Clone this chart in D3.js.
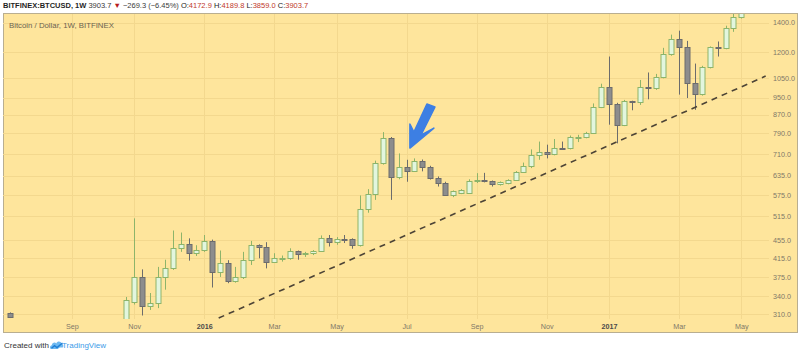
<!DOCTYPE html>
<html>
<head>
<meta charset="utf-8">
<script src="https://cdn.jsdelivr.net/npm/d3@7"></script>
<style>
  body { margin: 0; background: #fff; }
  svg { display: block; font-family: "Liberation Sans", Arial, sans-serif; }
</style>
</head>
<body>
<svg id="chart" width="800" height="354"></svg>
<script>
// weekly BITFINEX BTCUSD candles
const weeks = [
  "2015-07-13",
  "2015-10-26", "2015-11-02", "2015-11-09", "2015-11-16", "2015-11-23", "2015-11-30", "2015-12-07", "2015-12-14", "2015-12-21", "2015-12-28",
  "2016-01-04", "2016-01-11", "2016-01-18", "2016-01-25", "2016-02-01", "2016-02-08", "2016-02-15", "2016-02-22", "2016-02-29", "2016-03-07", "2016-03-14", "2016-03-21", "2016-03-28",
  "2016-04-04", "2016-04-11", "2016-04-18", "2016-04-25", "2016-05-02", "2016-05-09", "2016-05-16", "2016-05-23", "2016-05-30",
  "2016-06-06", "2016-06-13", "2016-06-20", "2016-06-27", "2016-07-04", "2016-07-11", "2016-07-18", "2016-07-25",
  "2016-08-01", "2016-08-08", "2016-08-15", "2016-08-22", "2016-08-29", "2016-09-05", "2016-09-12", "2016-09-19", "2016-09-26",
  "2016-10-03", "2016-10-10", "2016-10-17", "2016-10-24", "2016-10-31", "2016-11-07", "2016-11-14", "2016-11-21", "2016-11-28",
  "2016-12-05", "2016-12-12", "2016-12-19", "2016-12-26",
  "2017-01-02", "2017-01-09", "2017-01-16", "2017-01-23", "2017-01-30", "2017-02-06", "2017-02-13", "2017-02-20", "2017-02-27",
  "2017-03-06", "2017-03-13", "2017-03-20", "2017-03-27", "2017-04-03", "2017-04-10", "2017-04-17", "2017-04-24", "2017-05-01", "2017-05-08"
];
const opens = [
  312,
  285, 331, 376, 323, 328, 376, 393, 436, 445, 425,
  433, 453, 385, 405, 369, 375, 411, 443, 438, 407, 414, 415, 429,
  423, 425, 430, 460, 450, 458, 457, 443, 534,
  578, 679, 770, 629, 663, 651, 686, 665,
  628, 612, 573, 581, 581, 619, 620, 617, 607,
  610, 621, 648, 666, 706, 717, 710, 734, 731,
  774, 776, 793, 906,
  1006, 921, 826, 933, 927, 1006, 1000, 1059, 1188,
  1287, 1236, 1024, 970, 1114, 1232, 1230, 1360, 1444, 1560
];
const highs = [
  313,
  339, 509, 391, 346, 396, 411, 478, 473, 459, 443,
  467, 456, 431, 410, 396, 428, 453, 445, 450, 425, 420, 436, 431,
  428, 432, 466, 467, 462, 467, 459, 573, 592,
  686, 795, 775, 712, 689, 694, 690, 668,
  632, 615, 588, 592, 623, 643, 644, 619, 616,
  623, 650, 679, 727, 757, 745, 767, 757, 781,
  784, 796, 922, 1021,
  1175, 925, 939, 935, 1041, 1082, 1074, 1229, 1316,
  1343, 1274, 1133, 1120, 1238, 1270, 1378, 1480, 1620, 1850
];
const lows = [
  304,
  280, 326, 308, 317, 320, 352, 390, 428, 409, 419,
  428, 356, 376, 364, 365, 372, 400, 414, 393, 405, 407, 411, 411,
  417, 421, 428, 440, 444, 448, 435, 440, 524,
  560, 672, 560, 623, 615, 647, 649, 622,
  600, 572, 568, 577, 580, 611, 613, 600, 603,
  607, 618, 645, 660, 689, 694, 705, 727, 727,
  755, 770, 790, 900,
  826, 750, 820, 890, 915, 942, 989, 1050, 1180,
  965, 948, 892, 960, 1105, 1175, 1220, 1335, 1430, 1550
];
const closes = [
  305,
  333, 376, 323, 328, 376, 393, 436, 445, 425, 433,
  453, 385, 405, 369, 375, 411, 443, 438, 407, 414, 415, 429, 423,
  425, 430, 460, 450, 458, 457, 443, 534, 578,
  679, 770, 629, 663, 651, 686, 665, 627,
  612, 573, 585, 588, 619, 620, 617, 607, 613,
  621, 648, 666, 706, 717, 710, 734, 731, 774,
  776, 793, 906, 1006,
  921, 826, 933, 927, 1006, 1000, 1059, 1188, 1287,
  1236, 1024, 970, 1114, 1232, 1230, 1360, 1444, 1560, 1800
];

const priceTicks = [310, 340, 375, 415, 455, 515, 575, 635, 710, 790, 870, 950, 1050, 1200, 1400];
const monthTicks = ["2015-09-07", "2015-11-02", "2016-01-04", "2016-03-07", "2016-05-02", "2016-07-04",
                    "2016-09-05", "2016-11-07", "2017-01-02", "2017-03-06", "2017-05-01"];
const monthLabels = ["Sep", "Nov", "2016", "Mar", "May", "Jul", "Sep", "Nov", "2017", "Mar", "May"];

// support line drawn on the chart
const trendDates = ["2016-01-17", "2017-05-23"];
const trendPrices = [304, 1062];
const arrowTip = { date: "2016-07-07", price: 732 };

const header = [
  { t: "BITFINEX:BTCUSD, 1W", c: "#1f1f1f", w: "bold" },
  { t: " 3903.7 ", c: "#3a3a3a" },
  { t: "\u25BC", c: "#b71c1c" },
  { t: " \u2212269.3 (\u22126.45%) ", c: "#3a3a3a" },
  { t: "O:", c: "#222" }, { t: "4172.9 ", c: "#c0392b" },
  { t: "H:", c: "#222" }, { t: "4189.8 ", c: "#c0392b" },
  { t: "L:", c: "#222" }, { t: "3859.0 ", c: "#c0392b" },
  { t: "C:", c: "#222" }, { t: "3903.7", c: "#c0392b" }
];

const bgColor = "#fee59c";
const gridColor = "#f3d88e";
const upFill = "#e2f6de", upLine = "#8db46a";
const downFill = "#8d8d8d", downLine = "#6c6c6c";

const svg = d3.select("#chart");
const frame = { left: 3.5, right: 797.5, top: 13.5, bottom: 332.5 };
const plot = { left: 3, right: 769, top: 14, bottom: 319 };

const parse = d3.utcParse("%Y-%m-%d");
const bars = weeks.map((d, i) => ({ date: parse(d), o: opens[i], h: highs[i], l: lows[i], c: closes[i] }));

const x = d3.scaleUtc()
  .domain([parse("2015-07-07"), parse("2017-05-26")])
  .range([plot.left, plot.right]);
const y = d3.scaleLog()
  .domain([302.5, 1464])
  .range([plot.bottom, plot.top]);

svg.append("rect").attr("width", 800).attr("height", 354).attr("fill", "#fff");
svg.append("rect")
  .attr("x", frame.left).attr("y", frame.top)
  .attr("width", frame.right - frame.left).attr("height", frame.bottom - frame.top)
  .attr("fill", bgColor).attr("stroke", "#b9ae90");

// grid
svg.append("g").selectAll("line")
  .data(priceTicks)
  .join("line")
  .attr("x1", plot.left).attr("x2", plot.right)
  .attr("y1", d => Math.round(y(d)) + 0.5).attr("y2", d => Math.round(y(d)) + 0.5)
  .attr("stroke", gridColor);
svg.append("g").selectAll("line")
  .data(monthTicks.map(parse))
  .join("line")
  .attr("x1", d => Math.round(x(d)) + 0.5).attr("x2", d => Math.round(x(d)) + 0.5)
  .attr("y1", plot.top).attr("y2", plot.bottom)
  .attr("stroke", gridColor);

svg.append("clipPath").attr("id", "clip")
  .append("rect")
  .attr("x", plot.left + 1).attr("y", plot.top)
  .attr("width", plot.right - plot.left - 1).attr("height", plot.bottom - plot.top);

const plotG = svg.append("g").attr("clip-path", "url(#clip)");

// candles
const up = d => d.c >= d.o;
const cx = d => Math.round(x(d.date));
const candle = plotG.selectAll("g.candle")
  .data(bars)
  .join("g")
  .attr("class", "candle");

candle.append("line")
  .attr("x1", d => cx(d) + 0.5).attr("x2", d => cx(d) + 0.5)
  .attr("y1", d => y(d.h)).attr("y2", d => y(d.l))
  .attr("stroke", d => up(d) ? upLine : downLine);

candle.append("rect")
  .attr("x", d => cx(d) - 2)
  .attr("width", 5)
  .attr("y", d => Math.round(y(Math.max(d.o, d.c))) + 0.5)
  .attr("height", d => Math.max(1, Math.round(y(Math.min(d.o, d.c))) - Math.round(y(Math.max(d.o, d.c)))))
  .attr("fill", d => up(d) ? upFill : downFill)
  .attr("stroke", d => up(d) ? upLine : downLine);

// dashed support line
const trend = trendDates.map((d, i) => [parse(d), trendPrices[i]]);
plotG.append("path")
  .attr("d", d3.line().x(d => x(d[0])).y(d => y(d[1]))(trend))
  .attr("fill", "none")
  .attr("stroke", "#4d4436")
  .attr("stroke-width", 1.6)
  .attr("stroke-dasharray", "6,5");

// blue arrow annotation
const tip = [x(parse(arrowTip.date)), y(arrowTip.price)];
const arrowShape = [[0, 0], [0, -24], [4, -16], [17, -44], [25, -41], [11, -13], [24, -20]];
svg.append("polygon")
  .attr("points", arrowShape.map(p => [tip[0] + p[0], tip[1] + p[1]].join(",")).join(" "))
  .attr("fill", "#3d7fe3")
  .attr("stroke", "#3d7fe3")
  .attr("stroke-width", 1.5)
  .attr("stroke-linejoin", "round");

// price axis
const yAxis = svg.append("g")
  .attr("transform", `translate(${plot.right},0)`)
  .call(d3.axisRight(y).tickValues(priceTicks).tickFormat(d3.format(".1f")).tickSize(0).tickPadding(4));
yAxis.select(".domain").remove();
yAxis.selectAll("text")
  .attr("fill", "#7f7868")
  .style("font-size", "7.2px")
  .style("font-family", "'Liberation Sans', Arial, sans-serif");

// time axis
const xAxis = svg.append("g")
  .attr("transform", `translate(0,${plot.bottom})`)
  .call(d3.axisBottom(x).tickValues(monthTicks.map(parse)).tickFormat((d, i) => monthLabels[i]).tickSize(0).tickPadding(5));
xAxis.select(".domain").remove();
xAxis.selectAll("text")
  .attr("fill", (d, i) => /\d/.test(monthLabels[i]) ? "#4a4a4a" : "#7f7868")
  .style("font-weight", (d, i) => /\d/.test(monthLabels[i]) ? "bold" : "normal")
  .style("font-size", "7.2px")
  .style("font-family", "'Liberation Sans', Arial, sans-serif");

// header line
const head = svg.append("text")
  .attr("x", 3).attr("y", 8)
  .style("font-size", "7.5px");
head.selectAll("tspan")
  .data(header)
  .join("tspan")
  .attr("fill", d => d.c)
  .style("font-weight", d => d.w || "normal")
  .style("white-space", "pre")
  .attr("xml:space", "preserve")
  .text(d => d.t);

svg.append("text")
  .attr("x", 9).attr("y", 28)
  .attr("fill", "#6b6350")
  .style("font-size", "7.8px")
  .text("Bitcoin / Dollar, 1W, BITFINEX");

// footer
svg.append("text")
  .attr("x", 4).attr("y", 348)
  .attr("fill", "#333")
  .style("font-size", "8px")
  .text("Created with");

const logo = svg.append("g").attr("transform", "translate(50,340)");
logo.append("path")
  .attr("d", "M1.5,9 C-0.5,9 -0.5,5.5 1.8,5.2 C2,2.6 5,1.8 6.3,3.4 C7.3,0.9 11,0.9 11.6,3.8 C13.6,4 13.8,7 12.6,7.6 L9.8,7.6 L7.6,9 Z")
  .attr("fill", "#6cb8f0");
logo.append("polyline")
  .attr("points", "1.5,8.2 4.5,5.6 7,7.6 12.5,3")
  .attr("fill", "none")
  .attr("stroke", "#1f7fd6")
  .attr("stroke-width", 1.4);

svg.append("text")
  .attr("x", 62).attr("y", 348)
  .attr("fill", "#3d9be8")
  .style("font-size", "8px")
  .text("TradingView");
</script>
</body>
</html>
